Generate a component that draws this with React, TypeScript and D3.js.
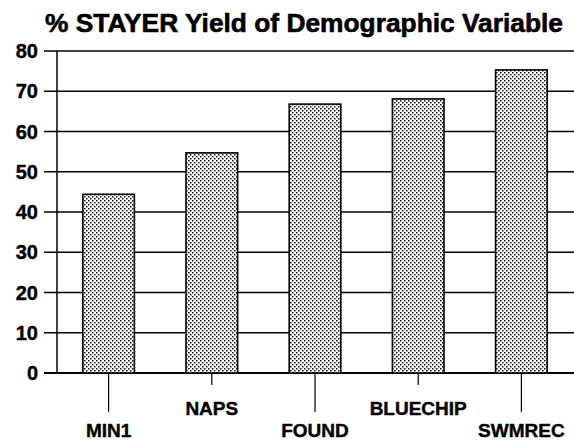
import {useEffect, useRef} from "react";
import * as d3 from "d3";

const categories = ["MIN1", "NAPS", "FOUND", "BLUECHIP", "SWMREC"];
const values = [44.4, 54.7, 66.8, 68.1, 75.3];
const yTicks = [0, 10, 20, 30, 40, 50, 60, 70, 80];

export default function App() {
  const svgRef = useRef<SVGSVGElement>(null);

  useEffect(() => {
    if (!svgRef.current) return;
    const width = 574;
    const height = 446;
    const margin = {top: 51, right: 1, bottom: 73, left: 57};

    const svg = d3.select(svgRef.current);
    svg.selectAll("*").remove();
    svg.attr("width", width).attr("height", height).style("background", "white");

    // patrón de puntos para las barras
    const defs = svg.append("defs");
    const pat = defs
      .append("pattern")
      .attr("id", "dots")
      .attr("width", 4)
      .attr("height", 4)
      .attr("patternUnits", "userSpaceOnUse");
    pat.append("rect").attr("width", 4).attr("height", 4).attr("fill", "#fff");
    pat.append("rect").attr("x", 0).attr("y", 0).attr("width", 1.5).attr("height", 1.5).attr("fill", "#111");
    pat.append("rect").attr("x", 2).attr("y", 2).attr("width", 1.5).attr("height", 1.5).attr("fill", "#111");

    const x = d3
      .scaleBand()
      .domain(categories)
      .range([margin.left, width - margin.right])
      .paddingInner(0.5)
      .paddingOuter(0.25);

    const y = d3
      .scaleLinear()
      .domain([0, 80])
      .range([height - margin.bottom, margin.top]);

    const font = "'Liberation Sans', Arial, sans-serif";

    // título
    svg
      .append("text")
      .attr("x", 304)
      .attr("y", 32)
      .attr("text-anchor", "middle")
      .style("font-family", font)
      .style("font-weight", "bold")
      .style("font-size", "26px")
      .style("stroke", "#000")
      .style("stroke-width", 0.6)
      .attr("textLength", 518)
      .attr("lengthAdjust", "spacingAndGlyphs")
      .text("% STAYER Yield of Demographic Variable");

    // líneas de cuadrícula y marcas
    svg
      .selectAll(".grid")
      .data(yTicks)
      .enter()
      .append("line")
      .attr("x1", margin.left - 13)
      .attr("x2", width)
      .attr("y1", (d) => y(d))
      .attr("y2", (d) => y(d))
      .style("stroke", "#000")
      .style("stroke-width", (d) => (d === 0 ? 2 : 1.6));

    svg
      .selectAll(".ylab")
      .data(yTicks)
      .enter()
      .append("text")
      .attr("x", 38)
      .attr("y", (d) => y(d))
      .attr("dy", "0.36em")
      .attr("text-anchor", "end")
      .style("font-family", font)
      .style("font-weight", "bold")
      .style("font-size", "20px")
      .style("stroke", "#000")
      .style("stroke-width", 0.4)
      .text((d) => d);

    // eje vertical
    svg
      .append("line")
      .attr("x1", margin.left)
      .attr("x2", margin.left)
      .attr("y1", y(80))
      .attr("y2", y(0))
      .style("stroke", "#000")
      .style("stroke-width", 1.5);

    // barras
    svg
      .selectAll(".bar")
      .data(values)
      .enter()
      .append("rect")
      .attr("x", (d, i) => x(categories[i])!)
      .attr("width", x.bandwidth())
      .attr("y", (d) => y(d))
      .attr("height", (d) => y(0) - y(d))
      .style("fill", "url(#dots)")
      .style("stroke", "#000")
      .style("stroke-width", 1.6);

    // marcas del eje x, escalonadas
    const cx = (c: string) => x(c)! + x.bandwidth() / 2;
    svg
      .selectAll(".xtick")
      .data(categories)
      .enter()
      .append("line")
      .attr("x1", cx)
      .attr("x2", cx)
      .attr("y1", y(0))
      .attr("y2", (d, i) => y(0) + (i % 2 === 0 ? 39 : 12))
      .style("stroke", "#000")
      .style("stroke-width", 1.2);

    svg
      .selectAll(".xlab")
      .data(categories)
      .enter()
      .append("text")
      .attr("x", cx)
      .attr("y", (d, i) => y(0) + (i % 2 === 0 ? 64 : 42))
      .attr("text-anchor", "middle")
      .style("font-family", font)
      .style("font-weight", "bold")
      .style("font-size", "19px")
      .style("stroke", "#000")
      .style("stroke-width", 0.4)
      .text((d) => d);
  }, []);

  return <svg ref={svgRef} style={{display: "block", position: "absolute", left: 0, top: 0}}></svg>;
}
